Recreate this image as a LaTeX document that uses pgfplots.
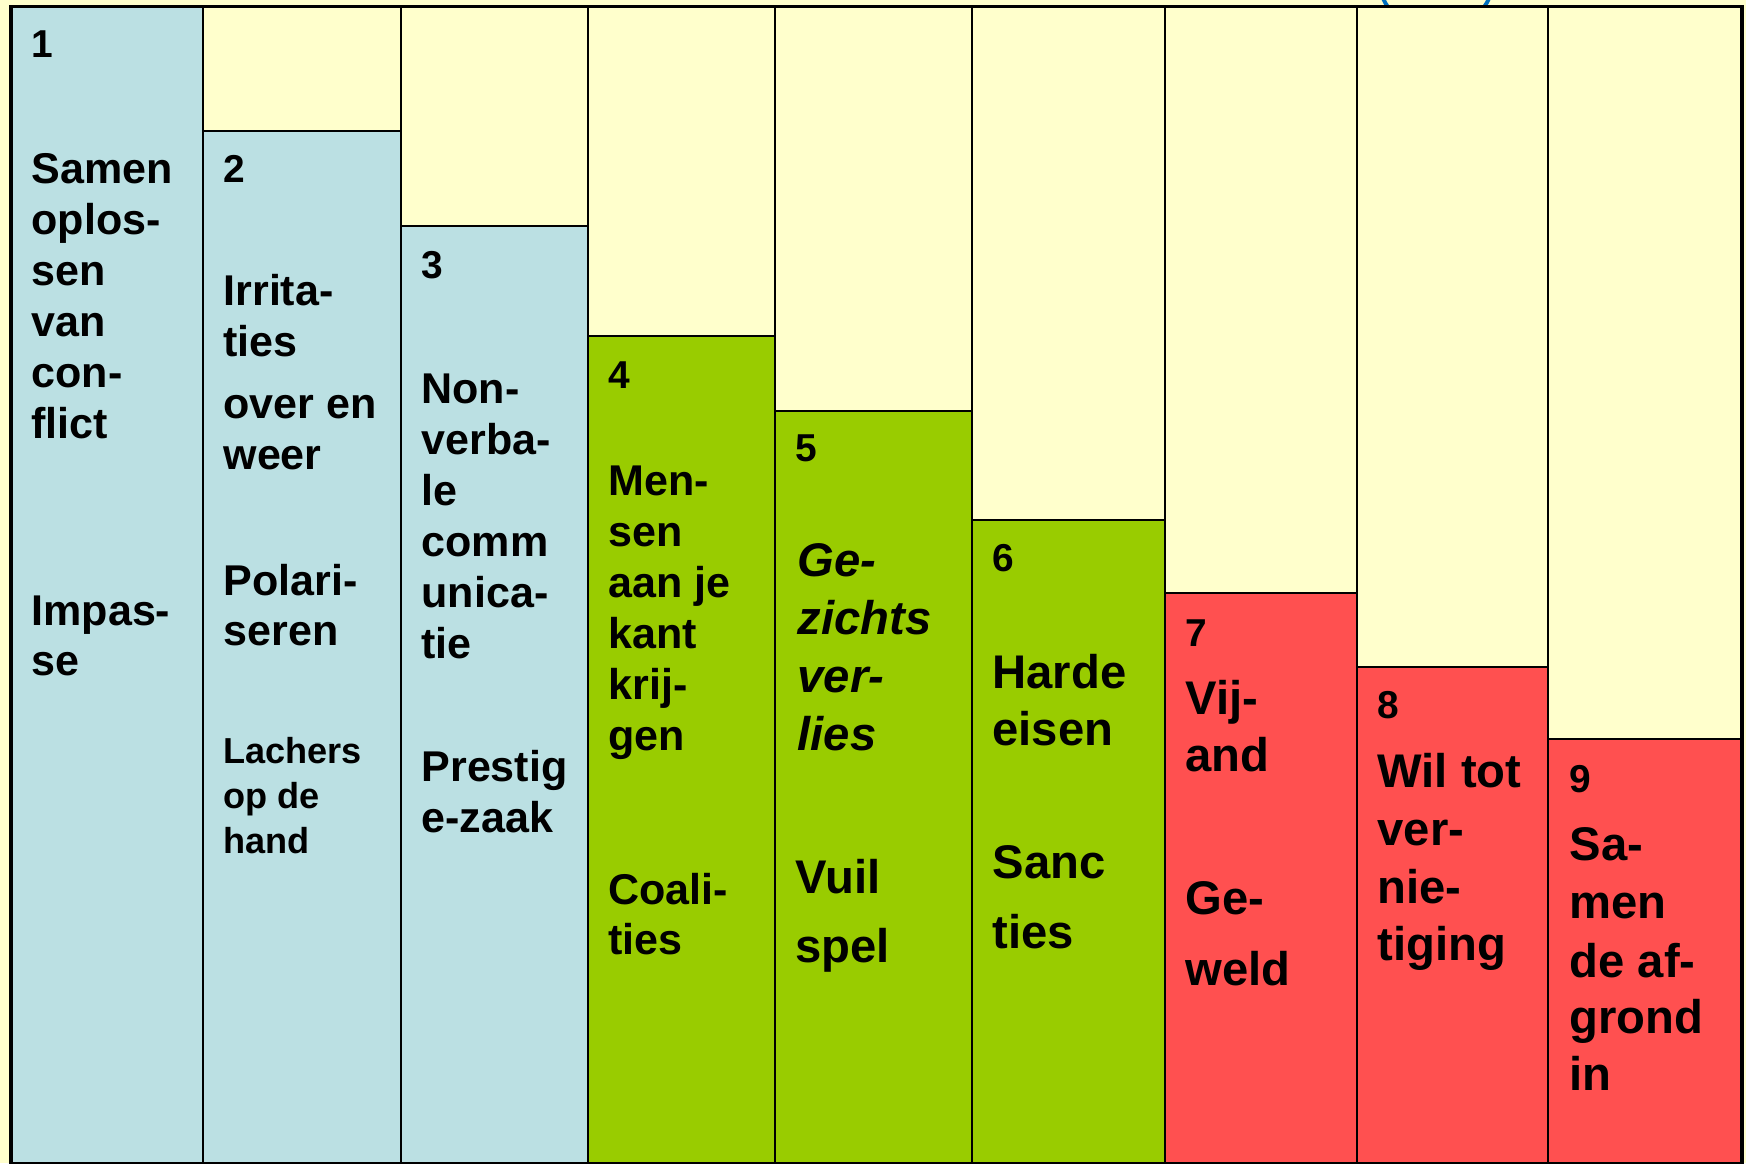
\documentclass[border=0pt]{standalone}
\usepackage{pgfplots}
\pgfplotsset{compat=1.18}
\usepackage{fontspec}
\setmainfont{Liberation Sans}
\definecolor{bgy}{HTML}{FFFFCC}
\definecolor{cblue}{HTML}{BBE0E3}
\definecolor{cgreen}{HTML}{99CC00}
\definecolor{cred}{HTML}{FF5050}
\definecolor{arcblue}{HTML}{0070C0}
\begin{document}
\begin{tikzpicture}[
  n/.style={anchor=base west,inner sep=0pt,font=\fontsize{14}{16}\selectfont\bfseries},
  a/.style={anchor=base west,inner sep=0pt,font=\fontsize{15.5}{18}\selectfont\bfseries},
  b/.style={anchor=base west,inner sep=0pt,font=\fontsize{17}{20}\selectfont\bfseries},
  c/.style={anchor=base west,inner sep=0pt,font=\fontsize{13}{15}\selectfont\bfseries},
  d/.style={anchor=base west,inner sep=0pt,font=\fontsize{17}{20}\selectfont\bfseries\itshape}]
\useasboundingbox (-4.32pt,0pt) rectangle (624.24pt,418.68pt);
\fill[bgy] (-4.32pt,0pt) rectangle (624.24pt,418.68pt);
\draw[arcblue,line width=1.4pt] (512.64pt,423.2pt) ellipse (19.8pt and 14.4pt);
\begin{axis}[
  scale only axis,
  width=622.44pt, height=416.16pt,
  xmin=12, xmax=1741, ymin=0, ymax=1156,
  enlargelimits=false,
  ticks=none,
  axis line style={line width=1.8pt},
  clip=false,
]
\addplot[ybar interval, fill=bgy, draw=black, line width=0.75pt] coordinates {
 (12,1156) (203,1156) (401,1156) (588,1156) (775,1156) (972,1156) (1165,1156) (1357,1156) (1548,1156) (1741,1156)};
\addplot[ybar interval, fill=cblue, draw=black, line width=0.75pt] coordinates {
 (12,1156) (203,1032) (401,937) (588,937)};
\addplot[ybar interval, fill=cgreen, draw=black, line width=0.75pt] coordinates {
 (588,827) (775,752) (972,643) (1165,643)};
\addplot[ybar interval, fill=cred, draw=black, line width=0.75pt] coordinates {
 (1165,570) (1357,496) (1548,424) (1741,424)};
% column 1
\node[n] at (axis cs:31,1106) {1};
\node[a] at (axis cs:31,980) {Samen};
\node[a] at (axis cs:31,929) {oplos-};
\node[a] at (axis cs:31,878) {sen};
\node[a] at (axis cs:31,827) {van};
\node[a] at (axis cs:31,776) {con-};
\node[a] at (axis cs:31,725) {flict};
\node[a] at (axis cs:31,538) {Impas-};
\node[a] at (axis cs:31,488) {se};
% column 2
\node[n] at (axis cs:223,981) {2};
\node[a] at (axis cs:223,858) {Irrita-};
\node[a] at (axis cs:223,807) {ties};
\node[a] at (axis cs:223,745) {over en};
\node[a] at (axis cs:223,694) {weer};
\node[a] at (axis cs:223,568) {Polari-};
\node[a] at (axis cs:223,518) {seren};
\node[c] at (axis cs:223,400) {Lachers};
\node[c] at (axis cs:223,355) {op de};
\node[c] at (axis cs:223,310) {hand};
% column 3
\node[n] at (axis cs:421,885) {3};
\node[a] at (axis cs:421,760) {Non-};
\node[a] at (axis cs:421,709) {verba-};
\node[a] at (axis cs:421,658) {le};
\node[a] at (axis cs:421,607) {comm};
\node[a] at (axis cs:421,556) {unica-};
\node[a] at (axis cs:421,505) {tie};
\node[a] at (axis cs:421,382) {Prestig};
\node[a] at (axis cs:421,331) {e-zaak};
% column 4
\node[n] at (axis cs:608,775) {4};
\node[a] at (axis cs:608,668) {Men-};
\node[a] at (axis cs:608,617) {sen};
\node[a] at (axis cs:608,566) {aan je};
\node[a] at (axis cs:608,515) {kant};
\node[a] at (axis cs:608,464) {krij-};
\node[a] at (axis cs:608,413) {gen};
\node[a] at (axis cs:608,259) {Coali-};
\node[a] at (axis cs:608,209) {ties};
% column 5
\node[n] at (axis cs:795,702) {5};
\node[d] at (axis cs:797,587) {Ge-};
\node[d] at (axis cs:797,529) {zichts};
\node[d] at (axis cs:797,471) {ver-};
\node[d] at (axis cs:797,413) {lies};
\node[b] at (axis cs:795,270) {Vuil};
\node[b] at (axis cs:795,201) {spel};
% column 6
\node[n] at (axis cs:992,592) {6};
\node[b] at (axis cs:992,475) {Harde};
\node[b] at (axis cs:992,418) {eisen};
\node[b] at (axis cs:992,285) {Sanc};
\node[b] at (axis cs:992,215) {ties};
% column 7
\node[n] at (axis cs:1185,517) {7};
\node[b] at (axis cs:1185,449) {Vij-};
\node[b] at (axis cs:1185,392) {and};
\node[b] at (axis cs:1185,249) {Ge-};
\node[b] at (axis cs:1185,178) {weld};
% column 8
\node[n] at (axis cs:1377,445) {8};
\node[b] at (axis cs:1377,376) {Wil tot};
\node[b] at (axis cs:1377,318) {ver-};
\node[b] at (axis cs:1377,260) {nie-};
\node[b] at (axis cs:1377,203) {tiging};
% column 9
\node[n] at (axis cs:1569,371) {9};
\node[b] at (axis cs:1569,303) {Sa-};
\node[b] at (axis cs:1569,245) {men};
\node[b] at (axis cs:1569,186) {de af-};
\node[b] at (axis cs:1569,130) {grond};
\node[b] at (axis cs:1569,73) {in};
\end{axis}
\end{tikzpicture}
\end{document}
